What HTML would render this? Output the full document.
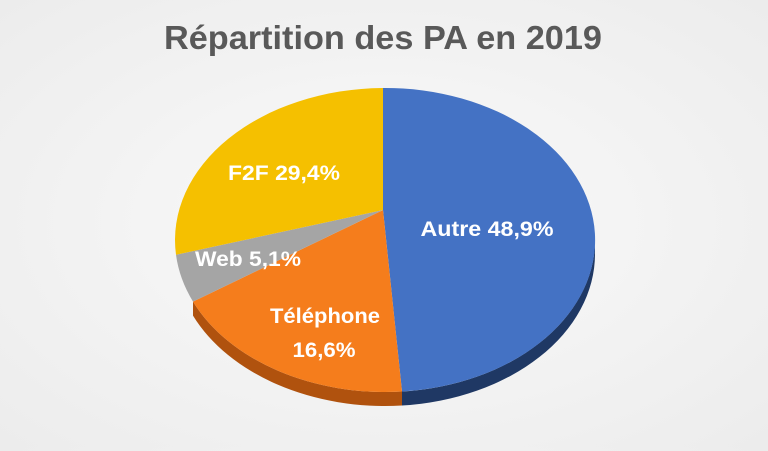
<!DOCTYPE html>
<html><head><meta charset="utf-8"><style>
html,body{margin:0;padding:0}
body{width:768px;height:446px;overflow:hidden;background:radial-gradient(ellipse at 50% 50%,#fafafa 0%,#ececec 100%);font-family:"Liberation Sans",sans-serif}
</style></head><body>
<svg width="768" height="446" viewBox="0 0 768 446" xmlns="http://www.w3.org/2000/svg">
<text x="383" y="49" text-anchor="middle" font-family="Liberation Sans, sans-serif" font-weight="bold" font-size="33" fill="#595959" textLength="438" lengthAdjust="spacingAndGlyphs">Répartition des PA en 2019</text>
<path d="M193,301.6 A210,152 0 0 0 402,391.5 L402,405.5 A210,152 0 0 1 193,315.6 Z" fill="#b0520e"/>
<path d="M402,391.5 A210,152 0 0 0 595,240 L595,254 A210,152 0 0 1 402,405.5 Z" fill="#1f3864"/>
<path d="M383,210 L383,88 A210,152 0 0 1 402,391.5 Z" fill="#4472c4"/>
<path d="M383,210 L402,391.5 A210,152 0 0 1 193,301.6 Z" fill="#f57d1c"/>
<path d="M383,210 L193,301.6 A210,152 0 0 1 176,254.8 Z" fill="#a5a5a5"/>
<path d="M383,210 L176,254.8 A210,152 0 0 1 383,88 Z" fill="#f5c000"/>
<g font-family="Liberation Sans, sans-serif" font-weight="bold" font-size="21" fill="#fff" text-anchor="middle">
<text x="284" y="180" textLength="112" lengthAdjust="spacingAndGlyphs">F2F 29,4%</text>
<text x="487" y="236" textLength="133" lengthAdjust="spacingAndGlyphs">Autre 48,9%</text>
<text x="248" y="266" textLength="106" lengthAdjust="spacingAndGlyphs">Web 5,1%</text>
<text x="325" y="323" textLength="110" lengthAdjust="spacingAndGlyphs">Téléphone</text>
<text x="324" y="357" textLength="63" lengthAdjust="spacingAndGlyphs">16,6%</text>
</g>
</svg>
</body></html>
